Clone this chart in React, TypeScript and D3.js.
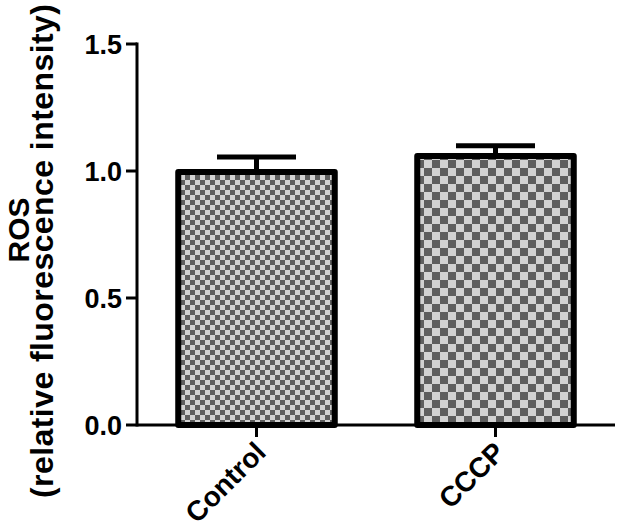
import React, { useEffect, useRef } from 'react';
import * as d3 from 'd3';

const groups = ['Control', 'CCCP'];
const means = [1.0, 1.063];
const errors = [0.055, 0.036];
const checkSizes = [5, 8];
const yTicks = [0, 0.5, 1.0, 1.5];

const W = 618;
const H = 529;
const font = 'Liberation Sans, Arial, Helvetica, sans-serif';

const drawChart = (node: SVGSVGElement) => {
	const svg = d3.select(node);
	svg.selectAll('*').remove();

	const x0 = 137;
	const x1 = 615;
	const yBottom = 425;
	const yTop = 44;

	const xScale = d3.scaleBand<string>().domain(groups)
		.range([x0, x1])
		.paddingInner(0.32)
		.paddingOuter(0.16);
	const yScale = d3.scaleLinear().domain([0, 1.5])
		.range([yBottom, yTop]);

	// checker patterns, one per bar
	const defs = svg.append('defs');
	checkSizes.forEach((s, i) => {
		const p = defs.append('pattern')
			.attr('id', `check${ i }`)
			.attr('patternUnits', 'userSpaceOnUse')
			.attr('width', s * 2)
			.attr('height', s * 2);
		p.append('rect').attr('width', s * 2).attr('height', s * 2).attr('fill', '#d2d2d2');
		p.append('rect').attr('width', s).attr('height', s).attr('fill', '#5e5e5e');
		p.append('rect').attr('x', s).attr('y', s).attr('width', s).attr('height', s).attr('fill', '#5e5e5e');
	});

	const sw = 6;
	const bars = svg.append('g');
	groups.forEach((g, i) => {
		const bx = xScale(g) as number;
		const bw = xScale.bandwidth();
		const cx = bx + bw / 2;
		const top = yScale(means[i]);
		const capY = yScale(means[i] + errors[i]);

		// error bar first, bar drawn on top of stem base
		bars.append('line')
			.attr('x1', cx).attr('x2', cx)
			.attr('y1', top).attr('y2', capY)
			.attr('stroke', '#000').attr('stroke-width', 5);
		bars.append('line')
			.attr('x1', cx - 39.5).attr('x2', cx + 39.5)
			.attr('y1', capY).attr('y2', capY)
			.attr('stroke', '#000').attr('stroke-width', 5);

		bars.append('rect')
			.attr('x', bx + sw / 2)
			.attr('y', top + 1)
			.attr('width', bw - sw)
			.attr('height', yBottom - top - 1)
			.attr('fill', `url(#check${ i })`)
			.attr('stroke', '#000')
			.attr('stroke-width', sw)
			.attr('stroke-linejoin', 'round');
	});

	// axes
	const axisG = svg.append('g')
		.attr('stroke', '#000')
		.attr('stroke-width', 3)
		.attr('fill', 'none');
	axisG.append('line')
		.attr('x1', x0).attr('x2', x0)
		.attr('y1', yTop - 1.5).attr('y2', yBottom + 1.5);
	axisG.append('line')
		.attr('x1', x0).attr('x2', x1)
		.attr('y1', yBottom).attr('y2', yBottom);
	axisG.selectAll('.yt').data(yTicks)
		.enter()
		.append('line')
		.attr('x1', x0 - 11).attr('x2', x0)
		.attr('y1', (d) => yScale(d))
		.attr('y2', (d) => yScale(d));
	axisG.selectAll('.xt').data(groups)
		.enter()
		.append('line')
		.attr('x1', (d) => (xScale(d) as number) + xScale.bandwidth() / 2)
		.attr('x2', (d) => (xScale(d) as number) + xScale.bandwidth() / 2)
		.attr('y1', yBottom)
		.attr('y2', yBottom + 12);

	svg.append('g').selectAll('text')
		.data(yTicks)
		.enter()
		.append('text')
		.attr('x', x0 - 15)
		.attr('y', (d) => yScale(d))
		.attr('dy', '0.36em')
		.attr('text-anchor', 'end')
		.attr('font-family', font)
		.attr('font-weight', 'bold')
		.attr('font-size', 27)
		.text((d) => d3.format('.1f')(d));

	svg.append('g').selectAll('text')
		.data(groups)
		.enter()
		.append('text')
		.attr('transform', (d) => {
			const cx = (xScale(d) as number) + xScale.bandwidth() / 2;
			return `translate(${ cx + 11 },${ yBottom + 29 }) rotate(-45)`;
		})
		.attr('text-anchor', 'end')
		.attr('font-family', font)
		.attr('font-weight', 'bold')
		.attr('font-size', 28)
		.text((d) => d);

	// y title, two lines
	svg.append('text')
		.attr('transform', 'translate(29,230) rotate(-90)')
		.attr('text-anchor', 'middle')
		.attr('font-family', font)
		.attr('font-weight', 'bold')
		.attr('font-size', 30)
		.text('ROS');
	svg.append('text')
		.attr('transform', 'translate(53,251) rotate(-90)')
		.attr('text-anchor', 'middle')
		.attr('font-family', font)
		.attr('font-weight', 'bold')
		.attr('font-size', 32)
		.attr('textLength', 494)
		.attr('lengthAdjust', 'spacing')
		.text('(relative fluorescence intensity)');
};

const App = () => {
	const ref = useRef<SVGSVGElement>(null);

	useEffect(() => {
		document.body.style.margin = '0';
		if (ref.current) drawChart(ref.current);
	}, []);

	return (
		<svg ref={ ref } width={ W } height={ H } style={ { display: 'block', background: '#fff' } }/>
	);
};

export default App;
